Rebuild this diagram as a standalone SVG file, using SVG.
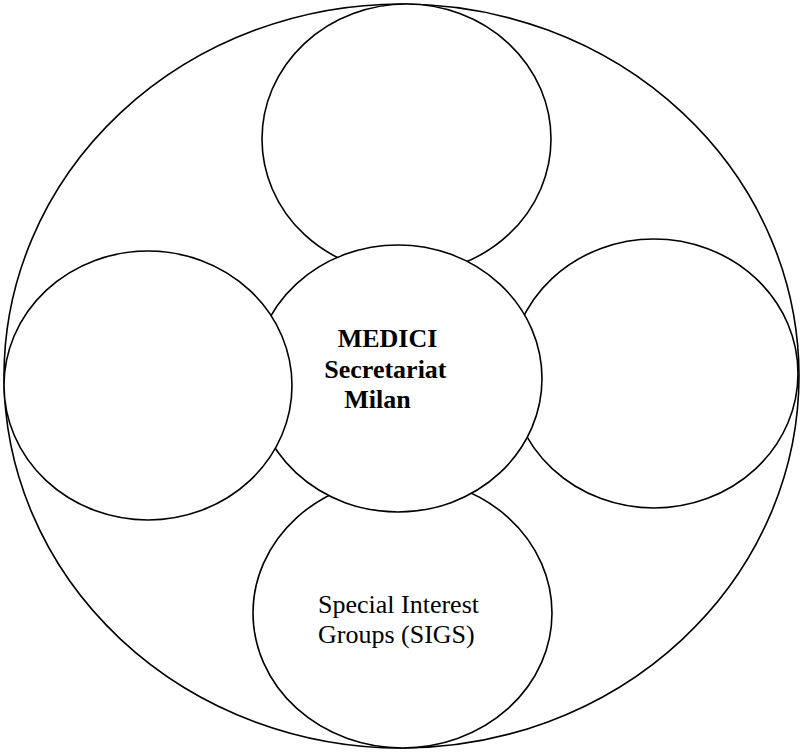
<svg xmlns="http://www.w3.org/2000/svg" width="800" height="752" viewBox="0 0 800 752">
  <style>
    .c { fill: #ffffff; stroke: #000000; stroke-width: 1.6; }
    .t { font-family: "Liberation Serif", "Times New Roman", serif; font-size: 26px; fill: #000000; }
    .b { font-weight: bold; }
  </style>
  <rect x="0" y="0" width="800" height="752" fill="#ffffff"/>
  <g id="outer">
    <ellipse class="c" cx="401.5" cy="376" rx="397.5" ry="372"/>
  </g>
  <g id="top">
    <ellipse class="c" cx="406.5" cy="139" rx="144.5" ry="135"/>
  </g>
  <g id="right">
    <ellipse class="c" cx="654" cy="373.5" rx="144" ry="134.5"/>
  </g>
  <g id="bottom">
    <ellipse class="c" cx="402.5" cy="613" rx="149.5" ry="135"/>
    <text class="t" x="318" y="613">Special Interest</text>
    <text class="t" x="318" y="643">Groups (SIGS)</text>
  </g>
  <g id="center">
    <ellipse class="c" cx="398" cy="378.5" rx="144" ry="133.5"/>
    <text class="t b" x="337.7" y="347">MEDICI</text>
    <text class="t b" x="324.3" y="377.5">Secretariat</text>
    <text class="t b" x="344.3" y="408">Milan</text>
  </g>
  <g id="left">
    <ellipse class="c" cx="148" cy="385.5" rx="144" ry="134.5"/>
  </g>
  <g id="connectors"></g>
</svg>
